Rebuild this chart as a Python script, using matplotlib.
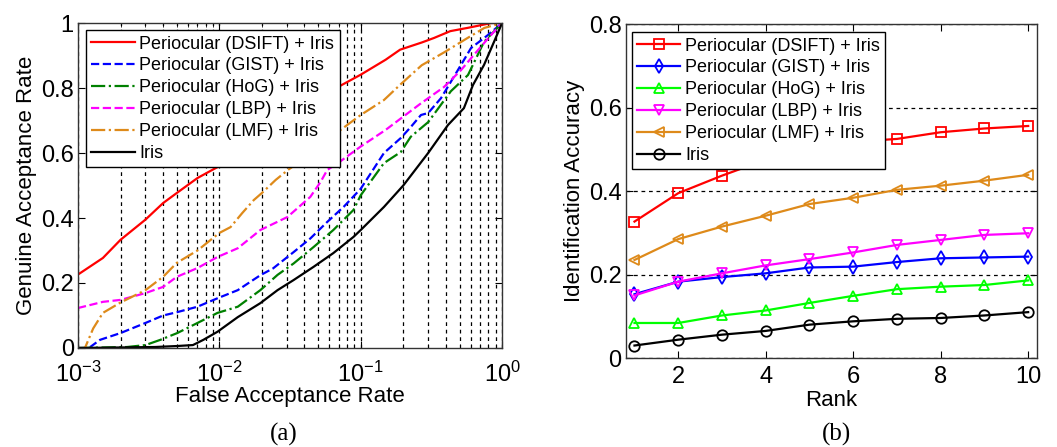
import numpy as np
import matplotlib
matplotlib.use('Agg')
import matplotlib.pyplot as plt
from matplotlib.ticker import FixedLocator, FuncFormatter, LogLocator, NullFormatter

plt.rcParams.update({'font.family': 'Liberation Sans'})
plt.rcParams.update({'mathtext.default': 'regular'})

labels = ['Periocular (DSIFT) + Iris', 'Periocular (GIST) + Iris', 'Periocular (HoG) + Iris',
          'Periocular (LBP) + Iris', 'Periocular (LMF) + Iris', 'Iris']

# (a) ROC curves
far_dsift = [1e-3, 1.5e-3, 2e-3, 3e-3, 4e-3, 5e-3, 7e-3, 9e-3, 1.5e-2, 2e-2, 3e-2, 4e-2, 5e-2,
             6.9e-2, 0.1, 0.15, 0.19, 0.27, 0.33, 0.43, 0.57, 0.84, 1.0]
gar_dsift = [.226, .277, .333, .395, .446, .477, .523, .549, .60, .64, .69, .73, .76,
             .803, .841, .887, .918, .94, .954, .975, .985, 1.0, 1.0]

far_gist = [1e-3, 1.1e-3, 1.22e-3, 1.43e-3, 2e-3, 3e-3, 4e-3, 5e-3, 7e-3, 9.7e-3, 1.35e-2, 1.95e-2,
            2.4e-2, 3.35e-2, 4.4e-2, 5.8e-2, 7.6e-2, 0.1, 0.146, 0.192, 0.226, 0.267, 0.3, 0.37,
            0.512, 0.603, 0.794, 1.0]
gar_gist = [0, 0, .003, .025, .046, .077, .10, .11, .127, .153, .178, .224,
            .245, .295, .337, .388, .435, .49, .60, .646, .68, .717, .723, .769,
            .871, .923, .963, 1.0]

far_hog = [1e-3, 2.22e-3, 3e-3, 3.82e-3, 5.04e-3, 7e-3, 9.7e-3, 1.35e-2, 1.95e-2, 2.58e-2, 3.35e-2,
           4.65e-2, 6.4e-2, 8.9e-2, 0.1, 0.146, 0.192, 0.226, 0.3, 0.434, 0.574, 0.745, 1.0]
gar_hog = [0, .003, .009, .025, .046, .077, .108, .127, .178, .225, .26,
           .311, .363, .425, .47, .569, .603, .65, .695, .79, .84, .942, 1.0]

far_lbp = [1e-3, 1.5e-3, 2e-3, 3e-3, 4e-3, 5e-3, 7e-3, 9.7e-3, 1.35e-2, 1.95e-2, 3.03e-2, 4.4e-2,
           5.2e-2, 5.8e-2, 6.9e-2, 0.1, 0.15, 0.2, 0.267, 0.388, 0.512, 0.632, 0.835, 1.0]
gar_lbp = [.123, .142, .148, .169, .188, .219, .246, .28, .307, .363, .403, .465,
           .511, .548, .569, .62, .671, .712, .753, .803, .855, .902, .963, 1.0]

far_lmf = [1e-3, 1.12e-3, 1.28e-3, 1.5e-3, 2e-3, 3e-3, 4e-3, 5e-3, 7e-3, 1e-2, 1.2e-2, 1.45e-2,
           1.75e-2, 2e-2, 2.5e-2, 3.1e-2, 5e-2, 6.9e-2, 0.1, 0.146, 0.19, 0.27, 0.39, 0.57,
           0.75, 1.0]
gar_lmf = [0, 0, .06, .108, .14, .178, .219, .262, .30, .354, .372, .415,
           .455, .477, .517, .55, .61, .665, .717, .763, .81, .87, .91, .954,
           .985, 1.0]

far_iris = [1e-3, 3.5e-3, 5e-3, 6.5e-3, 7.7e-3, 9.7e-3, 1.35e-2, 1.95e-2, 2.58e-2, 3.35e-2,
            4.65e-2, 6.4e-2, 8.9e-2, 0.1, 0.146, 0.2, 0.3, 0.414, 0.537, 0.622, 0.745, 0.877, 1.0]
gar_iris = [0, .003, .006, .009, .025, .05, .095, .138, .178, .209,
            .25, .292, .342, .363, .434, .50, .60, .686, .738, .809, .871, .942, 1.0]

# (b) CMC curves
rank = [1, 2, 3, 4, 5, 6, 7, 8, 9, 10]
acc_dsift = [.327, .395, .437, .475, .50, .518, .525, .541, .550, .556]
acc_gist = [.153, .183, .194, .203, .217, .219, .230, .239, .241, .243]
acc_hog = [.084, .084, .102, .114, .132, .149, .165, .171, .175, .186]
acc_lbp = [.150, .183, .203, .222, .237, .253, .271, .283, .295, .299]
acc_lmf = [.235, .285, .315, .341, .369, .384, .403, .413, .425, .439]
acc_iris = [.030, .044, .056, .065, .080, .088, .094, .096, .102, .110]

orange = '#de8a1a'
grid_dash = (0, (3, 3))
leg_kw = dict(loc='upper left', borderaxespad=0, fontsize=13, frameon=True, fancybox=False,
              edgecolor='k', framealpha=1, handlelength=2.4, handletextpad=0.25,
              labelspacing=0.27, borderpad=0.3)

fig = plt.figure(figsize=(10.57, 4.47), dpi=100)

# ---- (a)
ax1 = fig.add_axes([0.0738, 0.2215, 0.4012, 0.727])
ax1.plot(far_dsift, gar_dsift, color='r', linestyle='-', linewidth=1.6, label=labels[0])
ax1.plot(far_gist, gar_gist, color='b', linestyle='--', linewidth=1.6, label=labels[1])
ax1.plot(far_hog, gar_hog, color='#008000', linestyle='-.', linewidth=1.6, label=labels[2])
ax1.plot(far_lbp, gar_lbp, color='#ff00ff', linestyle='--', linewidth=1.6, label=labels[3])
ax1.plot(far_lmf, gar_lmf, color=orange, linestyle='-.', linewidth=1.6, label=labels[4])
ax1.plot(far_iris, gar_iris, color='k', linestyle='-', linewidth=1.6, label=labels[5])
ax1.set_xscale('log')
ax1.set_xlim(1e-3, 1)
ax1.set_ylim(0, 1)
ax1.xaxis.set_major_locator(LogLocator(base=10, numticks=10))
ax1.xaxis.set_minor_locator(LogLocator(base=10, subs=np.arange(2, 10), numticks=20))
ax1.xaxis.set_minor_formatter(NullFormatter())
ax1.xaxis.set_major_formatter(FuncFormatter(lambda v, p: r'$10^{%d}$' % int(round(np.log10(v)))))
ax1.yaxis.set_major_locator(FixedLocator([0, 0.2, 0.4, 0.6, 0.8, 1.0]))
ax1.yaxis.set_major_formatter(FuncFormatter(lambda v, p: '%g' % v))
ax1.grid(True, which='both', axis='x', linestyle=grid_dash, color='k', linewidth=0.9)
ax1.set_axisbelow(True)
ax1.set_xlabel('False Acceptance Rate', fontsize=16, labelpad=-1)
ax1.set_ylabel('Genuine Acceptance Rate', fontsize=16, labelpad=3)
ax1.legend(bbox_to_anchor=(0.019, 0.978), **leg_kw)

# ---- (b)
ax2 = fig.add_axes([0.592, 0.199, 0.389, 0.747])
mk = dict(linewidth=1.6, markersize=7.5, markerfacecolor='none', markeredgewidth=1.3)
ax2.plot(rank, acc_dsift, color='r', marker='s', label=labels[0], **mk)
ax2.plot(rank, acc_gist, color='b', marker='d', label=labels[1], **mk)
ax2.plot(rank, acc_hog, color='#00ff00', marker='^', label=labels[2], **mk)
ax2.plot(rank, acc_lbp, color='#ff00ff', marker='v', label=labels[3], **mk)
ax2.plot(rank, acc_lmf, color=orange, marker='<', label=labels[4], **mk)
ax2.plot(rank, acc_iris, color='k', marker='o', label=labels[5], **mk)
ax2.set_xlim(0.8, 10.2)
ax2.set_ylim(0, 0.8)
ax2.xaxis.set_major_locator(FixedLocator([2, 4, 6, 8, 10]))
ax2.yaxis.set_major_locator(FixedLocator([0, 0.2, 0.4, 0.6, 0.8]))
ax2.yaxis.set_major_formatter(FuncFormatter(lambda v, p: '%g' % v))
ax2.grid(True, axis='y', linestyle=grid_dash, color='k', linewidth=0.9)
ax2.set_axisbelow(True)
ax2.set_xlabel('Rank', fontsize=16, labelpad=1)
ax2.set_ylabel('Identification Accuracy', fontsize=16, labelpad=3)
ax2.legend(bbox_to_anchor=(0.0146, 0.976), **leg_kw)

for ax in (ax1, ax2):
    ax.tick_params(direction='in', which='both', top=True, right=True, labelsize=17)
    ax.tick_params(axis='y', pad=3)
    ax.tick_params(which='major', length=5)
    ax.tick_params(which='minor', length=3)
    for s in ax.spines.values():
        s.set_linewidth(1.0)
        s.set_color('#333333')
ax1.tick_params(axis='x', pad=10)
ax2.tick_params(axis='x', pad=6)

fig.text(0.268, 0.027, '(a)', fontsize=18, family='Liberation Serif', ha='center', va='center')
fig.text(0.791, 0.027, '(b)', fontsize=18, family='Liberation Serif', ha='center', va='center')

fig.savefig('out.png', dpi=100)
